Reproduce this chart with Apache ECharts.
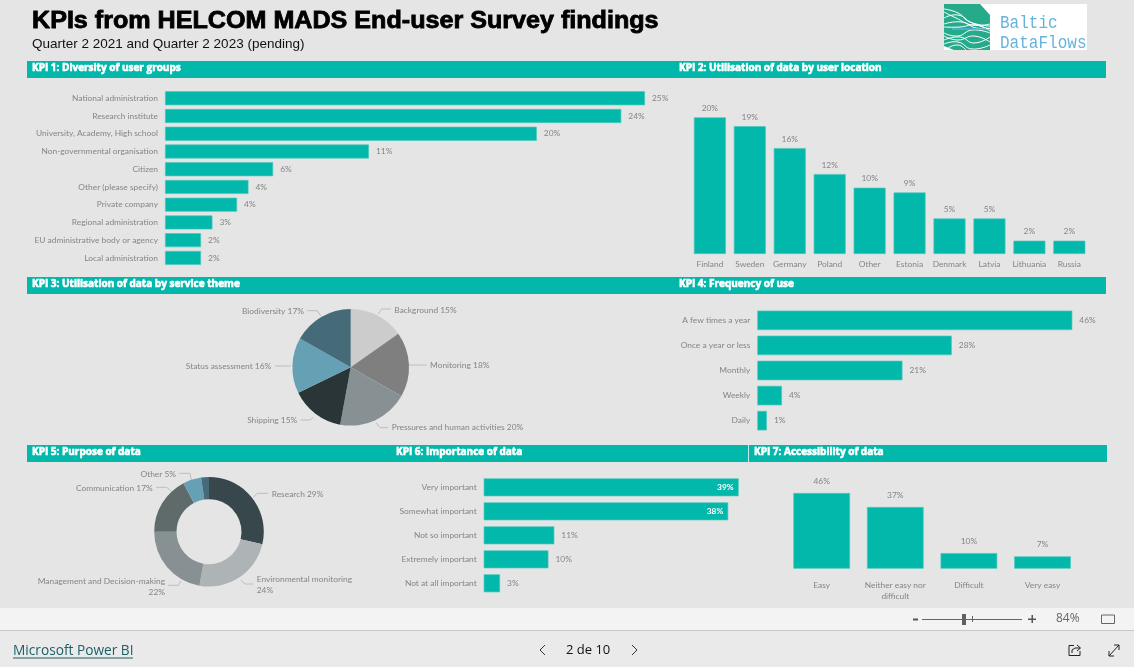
<!DOCTYPE html>
<html>
<head>
<meta charset="utf-8">
<script src="https://cdn.jsdelivr.net/npm/echarts@6/dist/echarts.min.js"></script>
<style>html,body{margin:0;padding:0;background:#e5e5e5;overflow:hidden}#c{width:1134px;height:667px}</style>
</head>
<body>
<div id="c"></div>
<script>
const kpi1Categories = ['National administration','Research institute','University, Academy, High school','Non-governmental organisation','Citizen','Other (please specify)','Private company','Regional administration','EU administrative body or agency','Local administration'];
const kpi1Values = [25.3,24.05,19.6,10.75,5.7,4.4,3.8,2.5,1.9,1.9];
const kpi1Labels = ['25%','24%','20%','11%','6%','4%','4%','3%','2%','2%'];

const kpi2Categories = ['Finland','Sweden','Germany','Poland','Other','Estonia','Denmark','Latvia','Lithuania','Russia'];
const kpi2Values = [20,18.7,15.5,11.7,9.7,9,5.2,5.2,1.95,1.95];
const kpi2Labels = ['20%','19%','16%','12%','10%','9%','5%','5%','2%','2%'];

const kpi3Categories = ['Background','Monitoring','Pressures and human activities','Shipping','Status assessment','Biodiversity'];
const kpi3Values = [15.2,18,19.7,14.9,15.4,16.8];
const kpi3Labels = ['Background 15%','Monitoring 18%','Pressures and human activities 20%','Shipping 15%','Status assessment 16%','Biodiversity 17%'];
const kpi3Colors = ['#cccccc','#7f7f7f','#879092','#293537','#66a0b5','#456a78'];

const kpi4Categories = ['A few times a year','Once a year or less','Monthly','Weekly','Daily'];
const kpi4Values = [46,28.4,21.2,3.6,1.4];
const kpi4Labels = ['46%','28%','21%','4%','1%'];

const kpi5Categories = ['Research','Environmental monitoring','Management and Decision-making','Communication','Other','Remainder'];
const kpi5Values = [28.7,24.1,22.2,17.3,5.4,2.3];
const kpi5Labels = ['Research 29%','Environmental monitoring\n24%','Management and Decision-making\n22%','Communication 17%','Other 5%',''];
const kpi5Colors = ['#37474b','#aeb4b5','#879092','#5f6b6b','#66a0b5','#456a78'];

const kpi6Categories = ['Very important','Somewhat important','Not so important','Extremely important','Not at all important'];
const kpi6Values = [39,37.4,10.8,9.9,2.5];
const kpi6Labels = ['39%','38%','11%','10%','3%'];

const kpi7Categories = ['Easy','Neither easy nor\ndifficult','Difficult','Very easy'];
const kpi7Values = [46,37.5,9.5,7.5];
const kpi7Labels = ['46%','37%','10%','7%'];

const sectionTitles = [
  ['KPI 1: Diversity of user groups',32,61],['KPI 2: Utilisation of data by user location',679,61],
  ['KPI 3: Utilisation of data by service theme',32,277],['KPI 4: Frequency of use',679,277],
  ['KPI 5: Purpose of data',32,445],['KPI 6: Importance of data',396,445],['KPI 7: Accessibility of data',754,445]
];

const TEAL='#01b8aa', FONT='Lato', TXT='#858585', EDGE='#4cc9bf';
const labelStyle={fontFamily:FONT,fontSize:8.4,color:TXT};
const barStyle={color:TEAL,borderColor:EDGE,borderWidth:0.7};

const grids=[],xAxes=[],yAxes=[],series=[];
function hbar(left,top,width,height,cats,vals,labels,barW,insideCount){
  const i=grids.length;
  grids.push({left,top,width,height});
  xAxes.push({gridIndex:i,type:'value',min:0,max:vals[0],show:false});
  yAxes.push({gridIndex:i,type:'category',inverse:true,data:cats,axisLine:{show:false},axisTick:{show:false},
    axisLabel:Object.assign({margin:7,padding:[2,0,0,0]},labelStyle)});
  series.push({type:'bar',xAxisIndex:i,yAxisIndex:i,barWidth:barW,itemStyle:barStyle,
    data:vals.map((v,k)=>k<(insideCount||0)?
      {value:v,label:{position:'insideRight',distance:5,color:'#fff',fontWeight:'bold'}}:v),
    label:Object.assign({show:true,position:'right',distance:7,padding:[3,0,0,0],formatter:p=>labels[p.dataIndex]},labelStyle)});
}
function vbar(left,top,width,height,cats,vals,labels,barW,gap,catGap){
  const i=grids.length;
  grids.push({left,top,width,height});
  xAxes.push({gridIndex:i,type:'category',data:cats,axisLine:{show:false},axisTick:{show:false},
    axisLabel:Object.assign({margin:catGap,interval:0,lineHeight:11},labelStyle)});
  yAxes.push({gridIndex:i,type:'value',min:0,max:vals[0],show:false});
  series.push({type:'bar',xAxisIndex:i,yAxisIndex:i,barWidth:barW,itemStyle:barStyle,data:vals,
    label:Object.assign({show:true,position:'top',distance:gap,formatter:p=>labels[p.dataIndex]},labelStyle)});
}
hbar(165,89.4,480,177.4,kpi1Categories,kpi1Values,kpi1Labels,14);
vbar(689.9,117.3,399.4,136.7,kpi2Categories,kpi2Values,kpi2Labels,32,5,5);
hbar(757.3,307.8,315,125.4,kpi4Categories,kpi4Values,kpi4Labels,19.5);
hbar(483.7,475.3,255,120,kpi6Categories,kpi6Values,kpi6Labels,18,2);
vbar(784.9,493,294.4,75.7,kpi7Categories,kpi7Values,kpi7Labels,56.7,8,11);

function pie(center,radius,cats,vals,labels,colors,layout){
  series.push({type:'pie',center,radius,startAngle:90,clockwise:true,avoidLabelOverlap:false,silent:true,
    data:vals.map((v,k)=>({value:v,name:cats[k],itemStyle:{color:colors[k]},
      label:{show:!!labels[k]},labelLine:{show:!!labels[k]}})),
    label:Object.assign({position:'outside',lineHeight:11,formatter:p=>labels[p.dataIndex]},labelStyle),
    labelLine:{length:8,length2:10,lineStyle:{color:'#bdbdbd',width:1}},
    labelLayout:p=>{const l=layout[p.dataIndex];return l?{x:l[0],y:l[1],align:l[2],verticalAlign:'middle',labelLinePoints:l[3]}:{};}});
}
pie([350.7,367.3],[0,58.3],kpi3Categories,kpi3Values,kpi3Labels,kpi3Colors,[
  [394.3,310,'left',[[378.3,314],[381.7,309],[391,309]]],
  [430,365,'left',[[409,365],[418,365],[426.7,365]]],
  [391.7,427.7,'left',[[376,422.7],[380,427.7],[388.3,427.7]]],
  [297.3,420,'right',[[313.3,417.3],[310,420],[300.7,420]]],
  [271.3,366,'right',[[290.7,366],[283,366],[275,366]]],
  [304,311,'right',[[320.7,316],[317.3,310.7],[307.3,310.7]]]]);
pie([209,531.7],[32.5,54.8],kpi5Categories,kpi5Values,kpi5Labels,kpi5Colors,[
  [271.7,494,'left',[[253.3,497.3],[257.3,493.3],[268.3,493.3]]],
  [256.7,585,'left',[[240.7,580],[245,584],[253.3,584]]],
  [165,586.5,'right',[[181,581],[178.3,585.3],[168.3,585.3]]],
  [152.7,488,'right',[[170.7,490.7],[166.7,487.3],[156,487.3]]],
  [176,474,'right',[[191.7,481.7],[190,473.3],[179.3,473.3]]],
  null]);

const g=[];
function rect(x,y,w,h,fill){g.push({type:'rect',silent:true,shape:{x,y,width:w,height:h},style:{fill}});}
function text(x,y,t,o,sx){g.push({type:'text',silent:true,x,y,scaleX:sx||1,style:Object.assign({text:t,verticalAlign:'middle'},o)});}
function line(pts,stroke,lw,smooth){g.push({type:'polyline',silent:true,shape:{points:pts,smooth:smooth||0},style:{stroke,lineWidth:lw,fill:null}});}

// section bands
rect(27,61,1079,17,TEAL); rect(27,277,1079,17,TEAL); rect(27,445,1080,17,TEAL);
rect(748,445,1,17,'#cfe9e6');
sectionTitles.forEach(s=>text(s[1],s[2]+7,s[0],{fill:'#fff',font:'bold 10px "Open Sans"',stroke:'#fff',lineWidth:0.6}));

// title
text(32,22,'KPIs from HELCOM MADS End-user Survey findings',{fill:'#000',font:'bold 23px "Liberation Sans"',stroke:'#000',lineWidth:0.8},1.092);
text(32,44,'Quarter 2 2021 and Quarter 2 2023 (pending)',{fill:'#111',font:'13.5px "Liberation Sans"'});

// logo
rect(944,4,143,46,'#ffffff');
g.push({type:'polygon',silent:true,shape:{points:[[944,4],[980,4],[990,15],[990,50],[954,50],[944,46]]},style:{fill:'#25ab8a'}});
[[[944,9],[958,13],[970,22],[990,26]],[[944,12],[956,18],[972,25],[990,24]],[[944,18],[958,15],[972,23],[990,29]],[[944,24],[962,22],[976,28],[990,28]],
 [[944,27],[960,27],[976,25],[990,31]],[[944,33],[958,36],[972,30],[990,33]],[[944,36],[958,40],[974,36],[990,42]],[[944,40],[960,37],[974,43],[990,37]],[[944,44],[958,42],[972,49],[990,45]],[[948,48],[958,45],[966,50]]]
 .forEach(p=>line(p,'#ffffff',1,0.5));
line([[952,29],[986,29]],'#5aaedb',1.5);
text(1000,23.5,'Baltic',{fill:'#68b3dc',font:'18px "Liberation Mono"'},0.89);
text(1000,43.5,'DataFlows',{fill:'#68b3dc',font:'18px "Liberation Mono"'},0.89);

// viewer chrome
rect(0,608,1134,22,'#f3f3f3'); rect(0,630,1134,1,'#c8c8c8'); rect(0,631,1134,36,'#eaeaea');
rect(913,618.5,5,2,'#555555');
rect(922,619,100,1,'#666666'); rect(962,614,4,11,'#606060'); rect(972,616,1,6,'#666666');
rect(1028,618.5,8,1.5,'#555555'); rect(1031.5,615,1.5,8,'#555555');
text(1056,619,'84%',{fill:'#666666',font:'12px "Open Sans"'});
g.push({type:'rect',silent:true,shape:{x:1101.5,y:615,width:13,height:8.5},style:{fill:null,stroke:'#666666',lineWidth:1}});
text(13,651,'Microsoft Power BI',{fill:'#1b5e66',font:'13.7px "Open Sans"'});
rect(13,657.5,120,1,'#1b5e66');
text(566,650.5,'2 de 10',{fill:'#111',font:'13px "Open Sans"'});
line([[545,645],[540,650],[545,655]],'#333',1);
line([[632,645],[637,650],[632,655]],'#333',1);
// share icon
line([[1074,645.5],[1069,645.5],[1069,655.5],[1080,655.5],[1080,651]],'#222',1);
line([[1072,653],[1072,650],[1075,648],[1080,648]],'#222',1);
line([[1077,645],[1080.5,648],[1077,651]],'#222',1);
// expand icon
line([[1109,656],[1119,645]],'#222',1);
line([[1109,651],[1109,656],[1114,656]],'#222',1);
line([[1114,645],[1119,645],[1119,650]],'#222',1);

const chart=echarts.init(document.getElementById('c'),null,{renderer:'canvas'});
chart.setOption({animation:false,backgroundColor:'#e5e5e5',tooltip:{show:false},grid:grids,xAxis:xAxes,yAxis:yAxes,series,graphic:{elements:g}});
</script>
</body>
</html>
